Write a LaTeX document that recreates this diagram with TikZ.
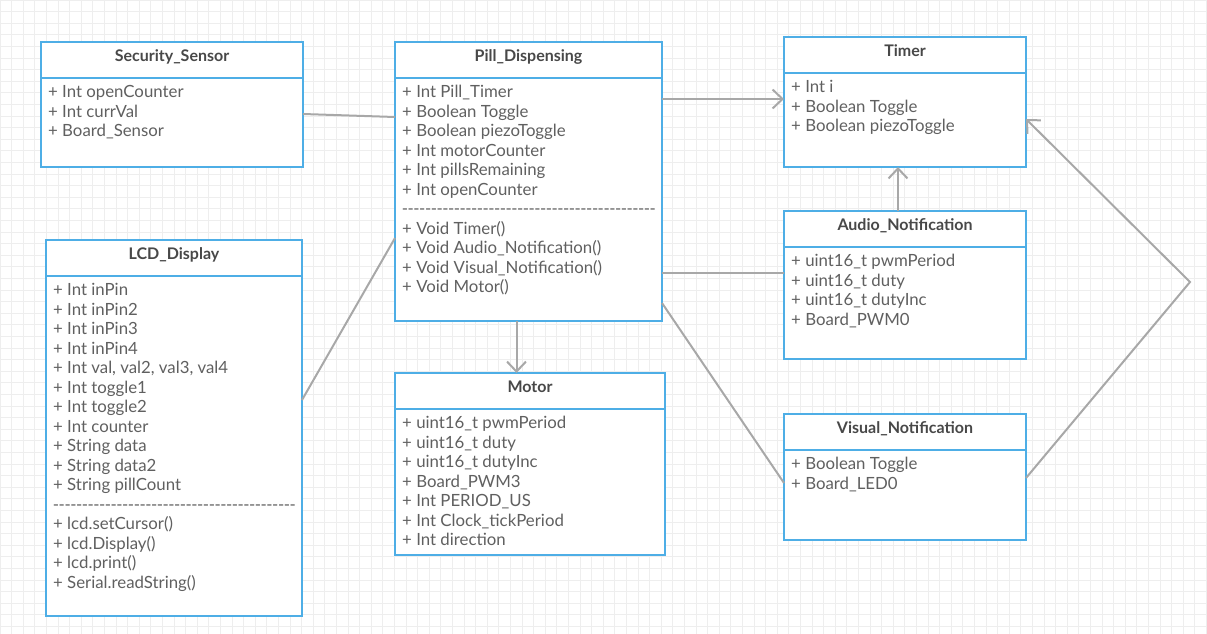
\documentclass[tikz,border=0pt]{standalone}
\usepackage{fontspec}
\setmainfont{Lato}
\usepackage{tikz}
\usetikzlibrary{arrows.meta,positioning}
\definecolor{umlBlue}{RGB}{78,174,230}
\definecolor{linkGray}{RGB}{168,168,168}
\definecolor{textGray}{RGB}{96,96,96}
\definecolor{titleGray}{RGB}{72,72,72}
\definecolor{gridGray}{RGB}{238,238,238}
% row of hyphens between fields and methods
\newcommand{\dashrow}[1]{\hbox to #1{\xleaders\hbox to 5.75pt{\hss-\hss}\hfill}}
\tikzset{
  clsHead/.style={rectangle,draw=umlBlue,fill=white,line width=2pt,inner sep=0pt,
                  outer sep=0pt,minimum width=#1,minimum height=36pt,anchor=north west,
                  text height=12pt,text depth=8.4pt,text=titleGray,
                  font=\fontsize{16}{19}\selectfont\bfseries},
  clsBody/.style={rectangle,draw=umlBlue,fill=white,line width=2pt,inner sep=0pt,
                  outer sep=0pt,anchor=north west},
  clsText/.style={align=left,inner sep=0pt,text=textGray,anchor=north west,
                  font=\fontsize{16.8}{19.5}\selectfont},
  umlLink/.style={line width=2pt,draw=linkGray},
  umlArrow/.style={-{Straight Barb[length=10pt,width=19pt]},line width=2pt,draw=linkGray},
}
\begin{document}
\begin{tikzpicture}[x=1pt,y=-1pt]
  \useasboundingbox (0,0) rectangle (1207,634);
  \draw[gridGray,line width=0.8pt,step=11.6pt] (0,0) grid (1207,634);

  % class boxes: name/x/y/width/body height/title
  \foreach \n/\x/\y/\w/\h/\t in {
      sec/41/42/262/89/Security\_Sensor,
      pill/395/42/267/243/Pill\_Dispensing,
      timer/784/37/242/94/Timer,
      audio/784/211/242/112/Audio\_Notification,
      visual/784/414/242/90/Visual\_Notification,
      lcd/46/240/256/340/LCD\_Display,
      motor/395/373/270/146/Motor}{
    \node[clsHead=\w pt] (\n-hd) at (\x,\y) {\t};
    \node[clsBody,minimum width=\w pt,minimum height=\h pt] (\n) at (\n-hd.south west) {};
  }

  \node[clsText,below right=7.4pt and 7pt of sec.north west] (sec-tx)
    {+ Int openCounter\\+ Int currVal\\+ Board\_Sensor};
  \node[clsText,below right=7.4pt and 7pt of pill.north west] (pill-tx)
    {+ Int Pill\_Timer\\+ Boolean Toggle\\+ Boolean piezoToggle\\+ Int motorCounter\\
     + Int pillsRemaining\\+ Int openCounter\\\dashrow{253pt}\\+ Void Timer()\\
     + Void Audio\_Notification()\\+ Void Visual\_Notification()\\+ Void Motor()};
  \node[clsText,below right=7.4pt and 7pt of timer.north west] (timer-tx)
    {+ Int i\\+ Boolean Toggle\\+ Boolean piezoToggle};
  \node[clsText,below right=7.4pt and 7pt of audio.north west] (audio-tx)
    {+ uint16\_t pwmPeriod\\+ uint16\_t duty\\+ uint16\_t dutyInc\\+ Board\_PWM0};
  \node[clsText,below right=7.4pt and 7pt of visual.north west] (visual-tx)
    {+ Boolean Toggle\\+ Board\_LED0};
  \node[clsText,below right=7.4pt and 7pt of lcd.north west] (lcd-tx)
    {+ Int inPin\\+ Int inPin2\\+ Int inPin3\\+ Int inPin4\\+ Int val, val2, val3, val4\\
     + Int toggle1\\+ Int toggle2\\+ Int counter\\+ String data\\+ String data2\\
     + String pillCount\\\dashrow{242pt}\\+ lcd.setCursor()\\+ lcd.Display()\\
     + lcd.print()\\+ Serial.readString()};
  \node[clsText,below right=7.4pt and 7pt of motor.north west] (motor-tx)
    {+ uint16\_t pwmPeriod\\+ uint16\_t duty\\+ uint16\_t dutyInc\\+ Board\_PWM3\\
     + Int PERIOD\_US\\+ Int Clock\_tickPeriod\\+ Int direction};

  % associations
  \draw[umlLink] ([yshift=-36pt]sec.north east) -- ([yshift=-39pt]pill.north west);
  \draw[umlLink] ([yshift=-124pt]lcd.north east) -- ([yshift=-160pt]pill.north west);
  \draw[umlArrow] ([yshift=-21pt]pill.north east) -- ([yshift=-21pt]pill.north east -| timer.west);
  \draw[umlLink] ([yshift=-195pt]pill.north east) -- ([yshift=-26pt]audio.north west);
  \draw[umlLink] ([yshift=-225pt]pill.north east) -- ([yshift=-33pt]visual.north west);
  \draw[umlArrow] ([xshift=-12pt]pill.south) -- ([xshift=-12pt]pill.south |- motor-hd.north);
  \draw[umlArrow] ([xshift=-7pt]audio-hd.north) -- ([xshift=-7pt]timer.south);
  \coordinate (bend) at (1190,282);
  \draw[umlArrow] ([yshift=-28pt]visual.north east) -- (bend) -- ([yshift=-46pt]timer.north east);
\end{tikzpicture}
\end{document}
